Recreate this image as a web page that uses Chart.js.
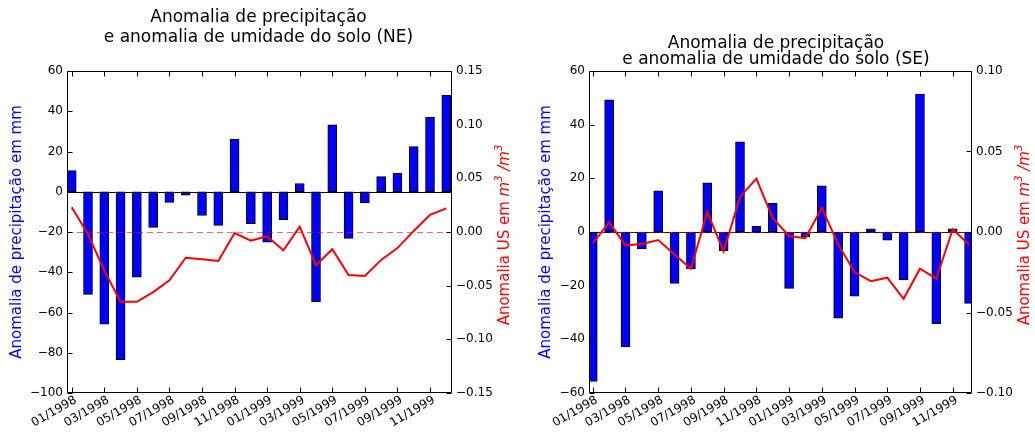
<!DOCTYPE html>
<html>
<head>
<meta charset="utf-8">
<script src="https://cdn.jsdelivr.net/npm/chart.js@4.4.0/dist/chart.umd.min.js"></script>
<style>
  html, body { margin: 0; padding: 0; background: #fff; }
  #wrap { position: relative; width: 1035px; height: 439px; }
  canvas { position: absolute; top: 0; }
  #ne { left: 0; }
  #se { left: 517px; }
</style>
</head>
<body>
<div id="wrap">
  <canvas id="ne" width="517" height="439"></canvas>
  <canvas id="se" width="518" height="439"></canvas>
</div>
<script>
'use strict';

const months = [
    '01/1998', '02/1998', '03/1998', '04/1998', '05/1998', '06/1998',
    '07/1998', '08/1998', '09/1998', '10/1998', '11/1998', '12/1998',
    '01/1999', '02/1999', '03/1999', '04/1999', '05/1999', '06/1999',
    '07/1999', '08/1999', '09/1999', '10/1999', '11/1999', '12/1999',
];

// precipitation anomaly (mm), left axis
const neRain = [10.5, -51, -65.8, -83.4, -42.5, -17.7, -5.3, -1.7, -11.8, -16.7, 26.2, -15.9,
    -25, -13.9, 4.1, -54.6, 33.2, -23.2, -5.5, 7.5, 9.1, 22.4, 37.1, 47.9];
const seRain = [-55.7, 49.3, -42.8, -6.3, 15.3, -19.2, -13.8, 18.3, -7.0, 33.6, 2.1, 10.7,
    -21.0, -1.7, 17.2, -32.1, -23.9, 1.2, -3.0, -17.9, 51.4, -34.2, 1.2, -26.6];

// soil moisture anomaly (m3/m3), right axis
const neSoil = [0.023, -0.002, -0.036, -0.065, -0.065, -0.056, -0.045, -0.024, -0.0255, -0.027, -0.001, -0.008,
    -0.004, -0.017, 0.005, -0.031, -0.016, -0.040, -0.041, -0.026, -0.015, 0.001, 0.016, 0.022];
const seSoil = [-0.007, 0.006, -0.0083, -0.0075, -0.005, -0.0139, -0.0228, 0.0124, -0.012, 0.0218, 0.0332, 0.0086,
    -0.0025, -0.0039, 0.0151, -0.0077, -0.0249, -0.0305, -0.0284, -0.0415, -0.0228, -0.029, 0.0017, -0.0077];

const FONT = '"DejaVu Sans", sans-serif';

function fmt(v, digits) {
    if (Math.abs(v) < 1e-9) v = 0;
    const s = Math.abs(v).toFixed(digits);
    return v < 0 ? '\u2212' + s : s;
}

// zero lines, box, inward ticks and the right axis label (with italic m^3)
const framePlugin = {
    id: 'frame',
    afterDatasetDraw(chart, args) {
        if (args.meta.type !== 'bar') return;
        const { ctx, chartArea: a } = chart;
        const y0 = Math.round(chart.scales.y.getPixelForValue(0)) + 0.5;
        const y1 = Math.round(chart.scales.y2.getPixelForValue(0)) + 0.5;
        ctx.save();
        ctx.lineWidth = 1;
        ctx.strokeStyle = '#000';
        ctx.beginPath(); ctx.moveTo(a.left, y0); ctx.lineTo(a.right, y0); ctx.stroke();
        ctx.strokeStyle = 'rgba(255,0,0,0.6)';
        ctx.setLineDash([6, 4]);
        ctx.beginPath(); ctx.moveTo(a.left, y1); ctx.lineTo(a.right, y1); ctx.stroke();
        ctx.restore();
    },
    afterDraw(chart, args, opts) {
        const { ctx, chartArea: a, scales } = chart;
        const L = Math.round(a.left) + 0.5, R = Math.round(a.right) - 0.5;
        const T = Math.round(a.top) + 0.5, B = Math.round(a.bottom) - 0.5;
        const tl = 5;
        ctx.save();
        ctx.strokeStyle = '#000';
        ctx.lineWidth = 1;
        ctx.beginPath();
        ctx.rect(L, T, R - L, B - T);
        scales.x.ticks.forEach(t => {
            const x = Math.round(scales.x.getPixelForValue(t.value)) + 0.5;
            ctx.moveTo(x, B); ctx.lineTo(x, B - tl);
            ctx.moveTo(x, T); ctx.lineTo(x, T + tl);
        });
        scales.y.ticks.forEach(t => {
            const y = Math.round(scales.y.getPixelForValue(t.value)) + 0.5;
            ctx.moveTo(L, y); ctx.lineTo(L + tl, y);
        });
        scales.y2.ticks.forEach(t => {
            const y = Math.round(scales.y2.getPixelForValue(t.value)) + 0.5;
            ctx.moveTo(R, y); ctx.lineTo(R - tl, y);
        });
        ctx.stroke();

        const segs = [
            ['Anomalia US em ', '15px ' + FONT, 0],
            ['m', 'italic 15px ' + FONT, 0],
            ['3', 'italic 10px ' + FONT, -6],
            [' /', 'italic 15px ' + FONT, 0],
            ['m', 'italic 15px ' + FONT, 0],
            ['3', 'italic 10px ' + FONT, -6],
        ];
        ctx.translate(opts.labelX, opts.labelY);
        ctx.rotate(-Math.PI / 2);
        ctx.fillStyle = '#ff0000';
        ctx.textBaseline = 'middle';
        let w = 0;
        segs.forEach(s => { ctx.font = s[1]; w += ctx.measureText(s[0]).width; });
        let x = -w / 2;
        segs.forEach(s => {
            ctx.font = s[1];
            ctx.fillText(s[0], x, s[2]);
            x += ctx.measureText(s[0]).width;
        });
        ctx.restore();
    },
};

function makeChart(id, region, rain, soil, lay) {
    return new Chart(document.getElementById(id), {
        data: {
            datasets: [
                {
                    type: 'line',
                    data: soil.map((v, i) => ({ x: i, y: v })),
                    yAxisID: 'y2',
                    borderColor: '#ff0000',
                    borderWidth: 2,
                    pointRadius: 0,
                    tension: 0,
                    order: 1,
                },
                {
                    type: 'bar',
                    data: rain.map((v, i) => ({ x: i, y: v })),
                    yAxisID: 'y',
                    backgroundColor: '#0000ff',
                    borderColor: '#000',
                    borderWidth: 1,
                    borderSkipped: false,
                    barThickness: 9,
                    order: 2,
                },
            ],
        },
        plugins: [framePlugin],
        options: {
            responsive: false,
            animation: false,
            layout: { padding: 0 },
            plugins: {
                legend: { display: false },
                tooltip: { enabled: false },
                title: {
                    display: true,
                    text: ['Anomalia de precipitação', 'e anomalia de umidade do solo (' + region + ')'],
                    color: '#000',
                    font: { family: FONT, size: 17, weight: 'normal', lineHeight: lay.titleLH },
                    padding: lay.titlePad,
                },
                frame: { labelX: lay.labelX, labelY: 235 },
            },
            scales: {
                x: {
                    type: 'linear',
                    offset: false,
                    min: lay.xMin,
                    max: lay.xMax,
                    grid: { display: false, drawTicks: false },
                    border: { display: false },
                    afterBuildTicks: s => {
                        s.ticks = months.map((m, i) => ({ value: i })).filter(t => t.value % 2 === 0);
                    },
                    ticks: {
                        autoSkip: false,
                        minRotation: 30,
                        maxRotation: 30,
                        padding: 0,
                        labelOffset: 4,
                        color: '#000',
                        font: { family: FONT, size: 12 },
                        callback: v => months[v],
                    },
                    afterFit: s => { s.height = 46; },
                },
                y: {
                    position: 'left',
                    min: lay.yMin,
                    max: lay.yMax,
                    grid: { display: false, drawTicks: false },
                    border: { display: false },
                    ticks: {
                        stepSize: 20,
                        padding: 4,
                        color: '#000',
                        font: { family: FONT, size: 12 },
                        callback: v => fmt(v, 0),
                    },
                    title: {
                        display: true,
                        text: 'Anomalia de precipitação em mm',
                        color: '#0000ff',
                        font: { family: FONT, size: 15 },
                        padding: { top: lay.yTitlePad, bottom: 0 },
                    },
                    afterFit: s => { s.width = lay.leftW; },
                },
                y2: {
                    position: 'right',
                    min: lay.y2Min,
                    max: lay.y2Max,
                    grid: { display: false, drawTicks: false },
                    border: { display: false },
                    ticks: {
                        stepSize: 0.05,
                        padding: 4,
                        color: '#000',
                        font: { family: FONT, size: 12 },
                        callback: v => fmt(v, 2),
                    },
                    afterFit: s => { s.width = lay.rightW; },
                },
            },
        },
    });
}

makeChart('ne', 'NE', neRain, neSoil, {
    xMin: -0.29, xMax: 23.35,
    yMin: -100, yMax: 60, y2Min: -0.15, y2Max: 0.15,
    leftW: 67, rightW: 65,
    titleLH: 20 / 17, titlePad: { top: 7.6, bottom: 23.4 },
    yTitlePad: 8, labelX: 505,
});

makeChart('se', 'SE', seRain, seSoil, {
    xMin: -0.23, xMax: 23.18,
    yMin: -60, yMax: 60, y2Min: -0.1, y2Max: 0.1,
    leftW: 72, rightW: 63,
    titleLH: 16 / 17, titlePad: { top: 36, bottom: 3 },
    yTitlePad: 20, labelX: 508,
});
</script>
</body>
</html>
